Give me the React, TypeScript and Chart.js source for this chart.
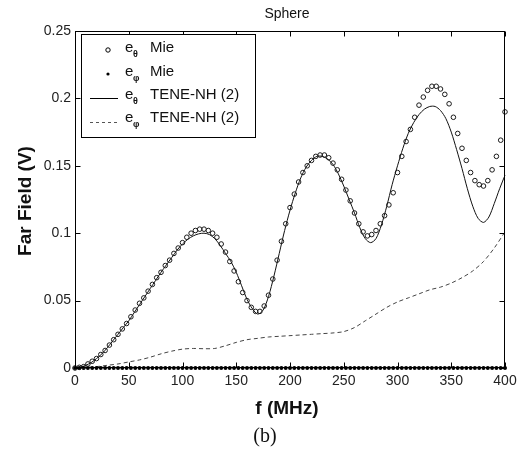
import React, { useEffect, useRef } from "react";
import { Chart, registerables } from "chart.js";

Chart.register(...registerables);

// Frequencies (MHz) of the Mie samples
const F_MIE = [0,4,8,12,16,20,24,28,32,36,40,44,48,52,56,60,64,68,72,76,80,84,88,92,96,100,104,108,112,116,120,124,128,132,136,140,144,148,152,156,160,164,168,172,176,180,184,188,192,196,200,204,208,212,216,220,224,228,232,236,240,244,248,252,256,260,264,268,272,276,280,284,288,292,296,300,304,308,312,316,320,324,328,332,336,340,344,348,352,356,360,364,368,372,376,380,384,388,392,396,400];
// e_theta Mie (open circles)
const E_THETA_MIE = [
  0,0.0005,0.001,0.003,0.005,0.007,0.010,0.013,0.017,0.021,
  0.025,0.029,0.033,0.038,0.043,0.048,0.052,0.057,0.062,0.067,
  0.071,0.076,0.080,0.085,0.089,0.093,0.097,0.100,0.102,0.103,
  0.103,0.102,0.100,0.097,0.092,0.086,0.079,0.072,0.064,0.056,
  0.050,0.045,0.042,0.042,0.046,0.054,0.066,0.080,0.094,0.107,
  0.119,0.129,0.138,0.145,0.150,0.154,0.157,0.158,0.158,0.156,
  0.152,0.147,0.140,0.132,0.124,0.115,0.107,0.101,0.098,0.099,
  0.102,0.107,0.113,0.121,0.130,0.145,0.157,0.168,0.177,0.186,
  0.195,0.201,0.206,0.209,0.209,0.207,0.203,0.196,0.186,0.174,
  0.163,0.154,0.145,0.139,0.136,0.135,0.139,0.147,0.157,0.169,
  0.190
];
// e_phi Mie (filled dots)
const E_PHI_MIE = [
  0,0,0,0,0,0,0,0,0,0,
  0,0,0,0,0,0,0,0,0,0,
  0,0,0,0,0,0,0,0,0,0,
  0,0,0,0,0,0,0,0,0,0,
  0,0,0,0,0,0,0,0,0,0,
  0,0,0,0,0,0,0,0,0,0,
  0,0,0,0,0,0,0,0,0,0,
  0,0,0,0,0,0,0,0,0,0,
  0,0,0,0,0,0,0,0,0,0,
  0,0,0,0,0,0,0,0,0,0,
  0
];

// Frequencies of the TENE-NH e_theta curve
const F_LINE = [0,5,10,15,20,25,30,35,40,45,50,55,60,65,70,75,80,85,90,95,100,105,110,115,120,125,130,135,140,145,150,155,160,165,170,175,180,185,190,195,200,205,210,215,220,225,230,235,240,245,250,255,260,265,270,275,280,285,290,295,300,305,310,315,320,325,330,335,340,345,350,355,360,365,370,375,380,385,390,395,400];
const E_THETA_TENE = [
  0,0.0005,0.002,0.004,0.007,0.0105,0.015,0.020,0.025,0.030,
  0.035,0.041,0.047,0.053,0.059,0.065,0.071,0.0765,0.082,0.0875,
  0.092,0.0955,0.098,0.0995,0.100,0.099,0.096,0.091,0.085,0.079,
  0.071,0.061,0.051,0.044,0.040,0.043,0.053,0.068,0.085,0.102,
  0.117,0.130,0.141,0.149,0.154,0.157,0.157,0.155,0.151,0.144,
  0.135,0.125,0.115,0.104,0.096,0.093,0.096,0.106,0.120,0.136,
  0.150,0.163,0.174,0.182,0.188,0.192,0.194,0.194,0.191,0.185,
  0.175,0.162,0.148,0.133,0.120,0.111,0.108,0.112,0.122,0.133,
  0.143
];

// Frequencies of the TENE-NH e_phi curve
const F_DASH = [0,10,20,30,40,50,60,70,80,90,100,110,120,130,140,150,160,170,180,190,200,210,220,230,240,250,260,270,280,290,300,310,320,330,340,350,360,370,380,390,400];
const E_PHI_TENE = [
  0,0.0003,0.001,0.002,0.003,0.0045,0.006,0.008,0.0105,0.0125,
  0.014,0.0145,0.0143,0.0145,0.0165,0.019,0.021,0.022,0.023,0.0235,
  0.024,0.0245,0.025,0.0255,0.026,0.027,0.030,0.035,0.040,0.045,
  0.049,0.052,0.055,0.058,0.060,0.063,0.067,0.072,0.079,0.089,
  0.101
];

const X_TICKS = [0, 50, 100, 150, 200, 250, 300, 350, 400];
const Y_TICKS = [0, 0.05, 0.1, 0.15, 0.2, 0.25];
const Y_TICK_LABELS = ["0", "0.05", "0.1", "0.15", "0.2", "0.25"];

const TITLE = "Sphere";
const X_TITLE = "f (MHz)";
const Y_TITLE = "Far Field (V)";
const CAPTION = "(b)";
const LEGEND_LABELS = ["Mie", "Mie", "TENE-NH (2)", "TENE-NH (2)"];
const LEGEND_SUBS = ["\u03b8", "\u03c6", "\u03b8", "\u03c6"];

const SANS = "'Liberation Sans', Arial, sans-serif";

const framePlugin = {
  id: "frame",
  afterDraw(chart: any) {
    const { ctx, chartArea: a, scales } = chart;
    const xs = scales.x;
    const ys = scales.y;
    ctx.save();
    ctx.strokeStyle = "#000";
    ctx.lineWidth = 1;
    ctx.setLineDash([]);
    const L = Math.round(a.left) + 0.5;
    const R = Math.round(a.right) - 0.5;
    const T = Math.round(a.top) + 0.5;
    const B = Math.round(a.bottom) - 0.5;
    ctx.strokeRect(L, T, R - L, B - T);
    const tl = 5;
    ctx.beginPath();
    X_TICKS.forEach((v) => {
      const px = Math.round(xs.getPixelForValue(v)) + 0.5;
      ctx.moveTo(px, B); ctx.lineTo(px, B - tl);
      ctx.moveTo(px, T); ctx.lineTo(px, T + tl);
    });
    Y_TICKS.forEach((v) => {
      const py = Math.round(ys.getPixelForValue(v)) + 0.5;
      ctx.moveTo(L, py); ctx.lineTo(L + tl, py);
      ctx.moveTo(R, py); ctx.lineTo(R - tl, py);
    });
    ctx.stroke();

    // Title
    ctx.fillStyle = "#111";
    ctx.textAlign = "center";
    ctx.textBaseline = "middle";
    ctx.font = `14px ${SANS}`;
    ctx.fillText(TITLE, 287, 14);

    // X title
    ctx.font = `bold 19px ${SANS}`;
    ctx.fillText(X_TITLE, 287, 409);

    // Y title
    ctx.save();
    ctx.translate(26, 201);
    ctx.rotate(-Math.PI / 2);
    ctx.fillText(Y_TITLE, 0, 0);
    ctx.restore();

    // Caption
    ctx.font = `20px 'Liberation Serif', 'Times New Roman', serif`;
    ctx.fillText(CAPTION, 265, 437);

    // Legend
    const lx = 81.5, ly = 34.5, lw = 174, lh = 103;
    ctx.fillStyle = "#fff";
    ctx.fillRect(lx, ly, lw, lh);
    ctx.strokeStyle = "#000";
    ctx.strokeRect(lx, ly, lw, lh);
    const rows = [48, 72, 95, 118];
    rows.forEach((ry, i) => {
      ctx.strokeStyle = "#000";
      ctx.fillStyle = "#000";
      ctx.lineWidth = 1;
      if (i === 0) {
        ctx.beginPath();
        ctx.arc(108, ry + 2, 2.2, 0, Math.PI * 2);
        ctx.stroke();
      } else if (i === 1) {
        ctx.beginPath();
        ctx.arc(108, ry + 2, 1.6, 0, Math.PI * 2);
        ctx.fill();
      } else if (i === 2) {
        ctx.setLineDash([]);
        ctx.beginPath();
        ctx.moveTo(90, ry + 3.5); ctx.lineTo(118, ry + 3.5);
        ctx.stroke();
      } else {
        ctx.strokeStyle = "#555";
        ctx.setLineDash([3, 3]);
        ctx.beginPath();
        ctx.moveTo(90, ry + 4.5); ctx.lineTo(118, ry + 4.5);
        ctx.stroke();
        ctx.setLineDash([]);
      }
      ctx.fillStyle = "#111";
      ctx.textAlign = "left";
      ctx.textBaseline = "middle";
      ctx.font = `15px ${SANS}`;
      ctx.fillText("e", 125, ry);
      ctx.font = `bold 9px ${SANS}`;
      ctx.fillText(LEGEND_SUBS[i], 133, ry + 7);
      ctx.font = `15px ${SANS}`;
      ctx.fillText(LEGEND_LABELS[i], 150, ry);
    });
    ctx.restore();
  },
};

export default function App() {
  const ref = useRef<HTMLCanvasElement | null>(null);
  useEffect(() => {
    if (!ref.current) return;
    const chart = new Chart(ref.current, {
      type: "scatter",
      data: {
        datasets: [
          {
            label: "e_theta Mie",
            data: F_MIE.map((f, i) => ({ x: f, y: E_THETA_MIE[i] })),
            showLine: false,
            pointStyle: "circle",
            pointRadius: 2.3,
            pointBorderWidth: 1,
            borderColor: "#1a1a1a",
            backgroundColor: "rgba(0,0,0,0)",
            clip: false,
          },
          {
            label: "e_phi Mie",
            data: F_MIE.map((f, i) => ({ x: f, y: E_PHI_MIE[i] })),
            showLine: false,
            pointRadius: 2,
            pointBorderWidth: 0,
            borderColor: "#000",
            backgroundColor: "#000",
            clip: false,
          },
          {
            label: "e_theta TENE-NH (2)",
            data: F_LINE.map((f, i) => ({ x: f, y: E_THETA_TENE[i] })),
            showLine: true,
            pointRadius: 0,
            borderWidth: 1,
            borderColor: "#111",
            tension: 0.3,
            clip: false,
          },
          {
            label: "e_phi TENE-NH (2)",
            data: F_DASH.map((f, i) => ({ x: f, y: E_PHI_TENE[i] })),
            showLine: true,
            pointRadius: 0,
            borderWidth: 1,
            borderColor: "#444",
            borderDash: [4, 3],
            tension: 0.3,
            clip: false,
          },
        ],
      },
      options: {
        responsive: false,
        animation: false,
        devicePixelRatio: 1,
        layout: { padding: { left: 0, top: 31, right: 19, bottom: 0 } },
        plugins: {
          legend: { display: false },
          tooltip: { enabled: false },
          title: { display: false },
        },
        scales: {
          x: {
            type: "linear",
            min: 0,
            max: 400,
            afterBuildTicks: (s: any) => { s.ticks = X_TICKS.map((v) => ({ value: v })); },
            ticks: { color: "#222", font: { family: SANS, size: 14 }, padding: 5, maxRotation: 0, autoSkip: false },
            grid: { display: false, drawTicks: false },
            border: { display: false },
            afterFit: (s: any) => { s.height = 82; },
          },
          y: {
            type: "linear",
            min: 0,
            max: 0.25,
            afterBuildTicks: (s: any) => { s.ticks = Y_TICKS.map((v) => ({ value: v })); },
            ticks: {
              color: "#222",
              font: { family: SANS, size: 14 },
              padding: 4,
              autoSkip: false,
              callback: (v: any) => {
                const idx = Y_TICKS.findIndex((t) => Math.abs(t - Number(v)) < 1e-9);
                return idx >= 0 ? Y_TICK_LABELS[idx] : "";
              },
            },
            grid: { display: false, drawTicks: false },
            border: { display: false },
            afterFit: (s: any) => { s.width = 75; },
          },
        },
      },
      plugins: [framePlugin],
    } as any);
    return () => chart.destroy();
  }, []);
  return (
    <div style={{ position: "absolute", left: 0, top: 0, width: 524, height: 450, background: "#fff" }}>
      <canvas ref={ref} width={524} height={450} style={{ display: "block" }} />
    </div>
  );
}
